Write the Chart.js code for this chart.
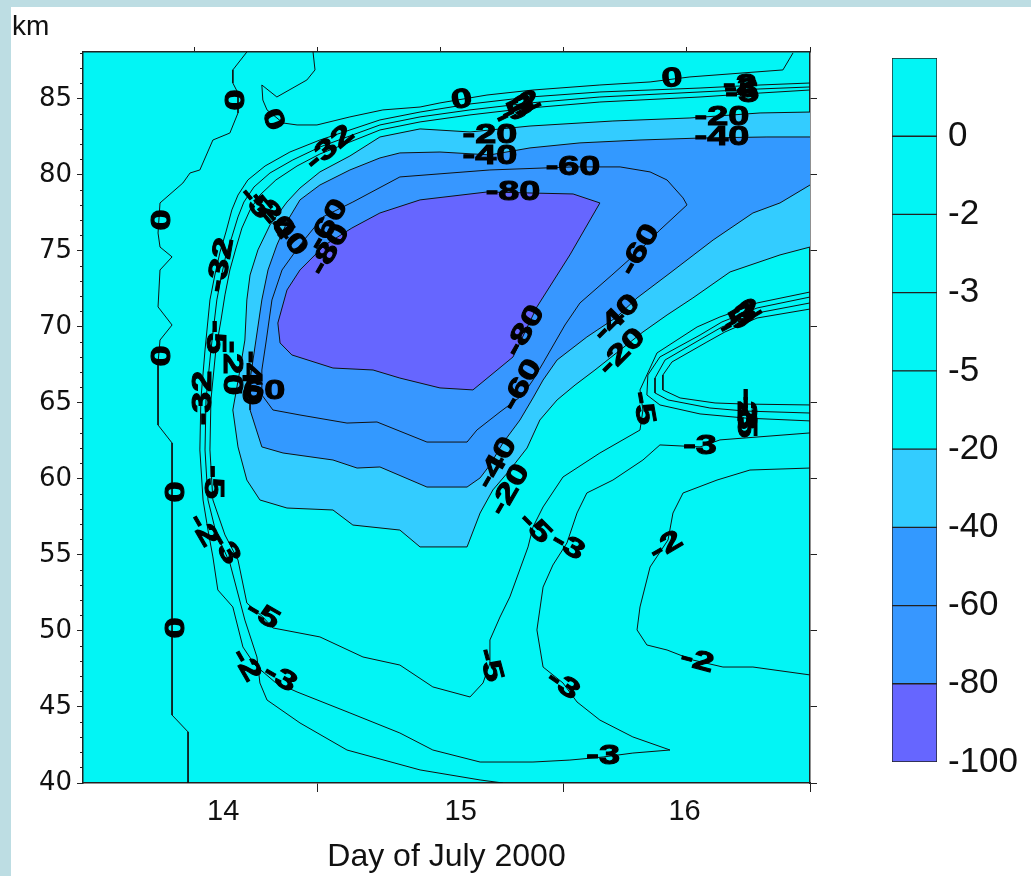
<!DOCTYPE html>
<html>
<head>
<meta charset="utf-8">
<script src="https://cdn.jsdelivr.net/npm/chart.js@4"></script>
<style>
  html, body { margin: 0; padding: 0; }
  body { width: 1031px; height: 876px; background: #bddde3; position: relative; overflow: hidden; }
  #sheet { position: absolute; left: 11px; top: 7px; right: 0; bottom: 0; background: #fff; }
  canvas { position: absolute; top: 0; }
  #map { left: 0; }
  #bar { left: 880px; }
</style>
</head>
<body>
<div id="sheet"></div>
<canvas id="map" width="1031" height="876"></canvas>
<canvas id="bar" width="151" height="876"></canvas>
<script>
// contour lines, each point is [day of July, km]
const c20 = [[17.0,84.14],[16.797,84.08],[16.512,83.75],[16.199,83.55],[15.862,83.22],[15.618,82.83],[15.415,83.03],[15.252,82.5],[15.13,81.25],[15.008,80.2],[14.927,79.14],[14.874,78.22],[14.805,76.71],[14.756,75.07],[14.724,73.42],[14.711,71.78],[14.703,69.14],[14.683,67.17],[14.654,64.54],[14.675,62.11],[14.711,59.93],[14.764,58.62],[14.874,58.09],[15.061,57.96],[15.142,56.97],[15.333,56.64],[15.415,55.53],[15.606,55.53],[15.659,57.76],[15.711,59.28],[15.78,60.59],[15.85,62.04],[15.902,63.88],[15.972,65.2],[16.045,66.18],[16.126,67.17],[16.321,69.67],[16.419,70.79],[16.524,71.91],[16.675,73.62],[16.878,74.74],[17.0,75.26]];
const c40 = [[17.0,82.5],[16.825,82.5],[16.553,82.43],[16.309,82.3],[16.065,82.11],[15.862,81.78],[15.699,81.32],[15.496,81.51],[15.333,81.45],[15.252,81.12],[15.13,80.33],[15.008,79.34],[14.927,78.36],[14.878,77.04],[14.833,75.39],[14.797,73.75],[14.772,71.78],[14.748,69.14],[14.724,66.51],[14.724,64.54],[14.772,62.11],[14.858,61.71],[15.061,61.25],[15.159,60.72],[15.252,60.79],[15.443,59.47],[15.606,59.47],[15.659,60.07],[15.699,60.92],[15.752,62.37],[15.821,63.88],[15.874,65.33],[15.915,66.51],[15.972,67.83],[16.093,69.34],[16.215,70.66],[16.297,71.91],[16.431,73.55],[16.606,75.72],[16.768,77.5],[16.878,78.16],[17.0,79.34]];
const c60 = [[15.333,79.87],[15.699,80.33],[16.037,80.53],[16.228,80.53],[16.35,80.2],[16.419,79.67],[16.484,78.49],[16.5,78.03],[16.39,76.38],[16.309,75.07],[16.195,73.42],[16.065,71.58],[16.004,70.13],[15.915,67.63],[15.874,66.51],[15.833,65.53],[15.74,64.41],[15.646,63.22],[15.606,62.43],[15.443,62.43],[15.24,63.75],[15.118,63.68],[14.927,64.21],[14.817,64.54],[14.772,65.53],[14.772,67.17],[14.789,69.01],[14.813,71.78],[14.854,73.75],[14.927,75.39],[15.02,77.24],[15.142,78.22],[15.333,79.87]];
const c80 = [[15.138,76.51],[15.252,77.5],[15.415,78.36],[15.687,78.88],[16.037,78.75],[16.146,78.16],[16.024,74.74],[15.89,71.32],[15.793,68.03],[15.63,65.86],[15.496,65.99],[15.333,66.64],[15.224,67.17],[15.061,67.3],[14.894,68.16],[14.846,68.95],[14.837,70.26],[14.874,72.43],[14.927,73.75],[15.028,75.39],[15.138,76.51]];
const zeroWest = [[14.711,88.09],[14.654,86.91],[14.654,86.05],[14.675,85.39],[14.675,84.08],[14.642,82.76],[14.573,82.3],[14.52,80.33],[14.48,80.13],[14.451,79.47],[14.358,78.16],[14.35,76.18],[14.358,75.26],[14.407,74.61],[14.358,73.75],[14.35,71.32],[14.407,70.13],[14.358,69.14],[14.35,67.63],[14.35,63.55],[14.407,62.37],[14.407,44.47],[14.472,43.36],[14.472,40.0]];
const zeroNorth = [[14.98,88.09],[14.988,86.91],[14.955,86.25],[14.833,85.13],[14.772,85.92],[14.776,84.93],[14.793,84.28],[14.858,83.42],[14.915,83.29],[14.996,83.29],[15.13,83.82],[15.264,84.28],[15.415,84.47],[15.496,84.74],[15.687,85.26],[15.874,85.59],[16.146,85.92],[16.35,86.12],[16.512,86.45],[16.89,86.91],[16.931,88.03]];
const lineA = [[17.0,86.05],[16.797,85.92],[16.553,85.72],[16.146,85.46],[15.862,85.13],[15.618,84.67],[15.415,84.14],[15.252,83.62],[15.13,82.96],[15.008,82.3],[14.886,81.51],[14.785,80.59],[14.715,79.67],[14.675,78.68],[14.65,77.7],[14.626,76.25],[14.602,74.93],[14.581,73.42],[14.561,71.78],[14.541,68.49],[14.524,65.2],[14.52,61.91],[14.533,58.62],[14.553,56.64],[14.573,54.87],[14.593,52.7],[14.654,51.58],[14.695,48.95],[14.744,47.76],[14.825,46.64],[14.915,45.99],[15.13,44.61],[15.333,43.29],[15.467,42.17],[15.659,41.38],[15.874,41.38],[16.024,41.51],[16.159,41.71],[16.28,41.97],[16.431,42.17],[16.28,43.03],[16.146,44.14],[16.053,45.33],[15.996,46.58],[15.915,47.63],[15.89,50.07],[15.915,52.89],[15.955,54.34],[16.012,55.79],[16.053,57.76],[16.093,59.08],[16.199,59.93],[16.321,61.25],[16.39,62.24],[16.553,62.11],[16.634,62.57],[17.0,63.03]];
const lineB = [[17.0,85.79],[16.797,85.66],[16.553,85.46],[16.146,85.13],[15.862,84.74],[15.618,84.28],[15.415,83.82],[15.252,83.29],[15.13,82.57],[15.008,81.84],[14.898,80.99],[14.805,80.13],[14.74,79.21],[14.699,78.22],[14.675,77.24],[14.65,75.92],[14.626,74.74],[14.606,73.22],[14.589,71.78],[14.565,68.49],[14.545,65.2],[14.541,61.91],[14.553,58.62],[14.585,56.51],[14.642,54.47],[14.703,50.72],[14.752,48.29],[14.764,46.58],[14.793,45.46],[14.927,43.95],[15.118,42.17],[15.415,40.86],[15.659,40.2],[15.752,40.0]];
const lineC = [[17.0,85.59],[16.797,85.39],[16.553,85.13],[16.146,84.8],[15.862,84.41],[15.618,83.95],[15.415,83.49],[15.252,82.96],[15.13,82.17],[15.008,81.38],[14.915,80.59],[14.829,79.67],[14.764,78.68],[14.724,77.7],[14.691,76.51],[14.667,75.2],[14.642,73.75],[14.622,72.11],[14.606,70.46],[14.585,68.49],[14.565,65.2],[14.561,61.91],[14.573,58.62],[14.622,56.32],[14.675,54.67],[14.711,51.84],[14.776,50.92],[14.817,50.2],[15.008,49.61],[15.183,48.29],[15.333,47.76],[15.467,46.32],[15.618,45.66],[15.671,46.58],[15.699,47.89],[15.699,49.41],[15.74,50.92],[15.78,52.24],[15.854,55.53],[15.874,56.84],[15.915,58.16],[15.996,60.13],[16.146,61.71],[16.309,63.22],[16.321,64.54],[16.309,65.86],[16.378,68.29],[16.541,70.0],[16.634,70.66],[16.715,71.12],[16.785,71.58],[17.0,72.3]];
const hookA = [[17.0,71.97],[16.785,71.25],[16.642,70.33],[16.553,69.47],[16.39,68.03],[16.341,66.84],[16.337,65.53],[16.39,64.87],[16.553,64.28],[16.736,64.01],[17.0,63.82]];
const hookB = [[17.0,71.58],[16.785,70.92],[16.642,70.0],[16.565,69.28],[16.411,67.83],[16.37,66.64],[16.37,65.66],[16.423,65.2],[16.593,64.67],[16.736,64.47],[17.0,64.34]];
const hookC = [[17.0,71.18],[16.785,70.59],[16.654,69.67],[16.581,69.01],[16.439,67.7],[16.402,66.84],[16.402,65.86],[16.472,65.33],[16.614,65.0],[16.736,64.93],[17.0,64.87]];
const eastTwo = [[17.0,60.72],[16.756,60.59],[16.622,59.93],[16.484,59.08],[16.443,57.76],[16.423,55.99],[16.35,54.21],[16.309,51.58],[16.297,50.07],[16.337,49.08],[16.419,48.75],[16.524,48.09],[16.646,47.63],[16.768,47.63],[17.0,47.11]];

// [text, day, km, angle in degrees]
const contourLabels = [
  ['0',14.654,84.93,90],['0',14.817,83.62,70],['0',14.35,77.04,90],['0',14.35,68.09,90],['0',14.407,59.14,90],['0',14.407,50.2,90],['0',15.585,84.93,-10],['0',16.439,86.32,-5],
  ['-32',15.049,81.78,-40],['-32',14.606,74.08,-80],
  ['-5',14.744,78.16,50],['-20',14.813,77.37,50],['-40',14.866,76.25,50],['-60',15.041,76.71,-60],['-80',15.049,75.07,-60],
  ['-5',14.581,69.34,90],['-20',14.65,67.3,90],['-40',14.724,66.64,90],['-60',14.756,65.72,0],['-32',14.533,65.33,-90],
  ['-5',14.573,59.8,90],['-2',14.533,56.64,60],['-3',14.622,55.46,60],['-5',14.776,51.05,30],['-2',14.707,47.76,60],['-3',14.846,46.91,30],
  ['-20',15.699,82.57,0],['-40',15.699,81.18,0],['-5',15.789,84.08,-25],['-3',15.813,84.34,-25],['-2',15.837,84.61,-25],
  ['-60',16.037,80.46,0],['-80',15.793,78.82,0],
  ['-2',16.715,85.86,0],['-3',16.72,85.59,0],['-5',16.724,85.26,0],['-20',16.642,83.75,0],['-40',16.642,82.43,0],
  ['-60',16.309,75.07,-60],['-80',15.841,69.74,-60],['-60',15.829,66.18,-60],['-40',16.215,70.59,-45],['-20',16.236,68.36,-45],
  ['-40',15.728,61.05,-60],['-20',15.78,59.28,-60],['-5',15.882,56.78,45],['-3',16.016,55.59,30],['-2',16.415,55.59,-30],
  ['-5',16.321,64.67,80],['-5',16.695,70.33,-30],['-3',16.715,70.59,-30],['-2',16.736,70.86,-30],
  ['-5',16.736,63.82,90],['-3',16.736,64.34,90],['-2',16.736,64.87,90],['-3',16.553,62.11,0],
  ['-5',15.699,47.76,75],['-3',15.996,46.45,35],['-2',16.541,48.03,15],['-3',16.159,41.71,0]
];

// axes
const DAY_MIN = 14.045, DAY_MAX = 17.0;
const KM_MIN = 40, KM_MAX = 88.09;
const kmTicks = [40, 45, 50, 55, 60, 65, 70, 75, 80, 85];
const kmMinor = [];
for (let k = 40; k <= 88; k++) kmMinor.push(k);
const dayMarks = [15, 16, 17];
const dayHalf = [14.5, 15, 15.5, 16, 16.5, 17];
const dayLabels = ['14', '15', '16'];
const dayLabelAt = [14.615, 15.58, 16.49];

// colour scale, bottom to top
const levels = ['-100', '-80', '-60', '-40', '-20', '-5', '-3', '-2', '0'];
const CYAN = '#02f5f5', LIGHT = '#33ccff', BLUE = '#3399ff', BLUE2 = '#3797ff', PURPLE = '#6666ff';
const bandColors = [PURPLE, BLUE2, BLUE, LIGHT, CYAN, CYAN, CYAN, CYAN, CYAN];

const FONT = "Arial, 'Liberation Sans', sans-serif";
const INK = '#222';

const pts = a => a.map(([x, y]) => ({ x, y }));
function contour(arr, fillColor, order) {
  return {
    data: pts(arr), xAxisID: 'x', yAxisID: 'y',
    showLine: true, pointRadius: 0, tension: 0,
    borderColor: '#111', borderWidth: 1,
    fill: fillColor ? 'shape' : false,
    backgroundColor: fillColor || 'transparent',
    order,
  };
}

const areaFill = {
  id: 'areaFill',
  beforeDraw(chart) {
    const { ctx, chartArea: a } = chart;
    ctx.save();
    ctx.fillStyle = CYAN;
    ctx.fillRect(a.left, a.top, a.width, a.height);
    ctx.restore();
  }
};

// line labels, rotated along the contours (Surfer style, wide and heavy)
const labelPlugin = {
  id: 'contourLabels',
  afterDatasetsDraw(chart) {
    const { ctx, chartArea: a, scales: { x, y } } = chart;
    ctx.save();
    ctx.beginPath();
    ctx.rect(a.left, a.top, a.width, a.height);
    ctx.clip();
    ctx.font = `bold 27px ${FONT}`;
    ctx.fillStyle = '#000';
    ctx.strokeStyle = '#000';
    ctx.lineWidth = 1;
    ctx.textAlign = 'center';
    ctx.textBaseline = 'middle';
    for (const [t, d, k, ang] of contourLabels) {
      ctx.save();
      ctx.translate(x.getPixelForValue(d), y.getPixelForValue(k));
      ctx.rotate(ang * Math.PI / 180);
      ctx.scale(1.4, 1);
      ctx.fillText(t, 0, 0);
      ctx.strokeText(t, 0, 0);
      ctx.restore();
    }
    ctx.restore();
  }
};

const edge = { color: INK, width: 1.5 };

new Chart(document.getElementById('map'), {
  type: 'scatter',
  data: {
    datasets: [
      contour(c20, LIGHT, 6),
      contour(c40, BLUE, 5),
      contour(c60, BLUE2, 4),
      contour(c80, PURPLE, 3),
      contour(zeroWest, null, 1),
      contour(zeroNorth, null, 1),
      contour(lineA, null, 1),
      contour(lineB, null, 1),
      contour(lineC, null, 1),
      contour(hookA, null, 1),
      contour(hookB, null, 1),
      contour(hookC, null, 1),
      contour(eastTwo, null, 1),
    ],
  },
  options: {
    responsive: false, animation: false, devicePixelRatio: 1, events: [],
    layout: { padding: { left: 12, right: 211, top: 0, bottom: 0 } },
    plugins: {
      legend: { display: false },
      tooltip: { enabled: false },
      title: { display: true, text: 'km', align: 'start', color: '#111', font: { family: FONT, size: 28, weight: 'normal' }, padding: { top: 10, bottom: 0 } },
    },
    scales: {
      x: {
        type: 'linear', position: 'bottom', min: DAY_MIN, max: DAY_MAX,
        afterBuildTicks: s => { s.ticks = [...dayMarks, ...dayLabelAt].sort((a, b) => a - b).map(v => ({ value: v })); },
        afterFit: s => { s.height = 93; },
        grid: { drawOnChartArea: false, tickLength: 9, tickColor: c => dayMarks.includes(c.tick.value) ? INK : 'rgba(0,0,0,0)' },
        border: edge,
        ticks: {
          autoSkip: false, maxRotation: 0, padding: 3, color: '#111', font: { family: FONT, size: 29 },
          callback: v => { const i = dayLabelAt.indexOf(v); return i < 0 ? '' : dayLabels[i]; },
        },
        title: { display: true, text: 'Day of July 2000', color: '#111', font: { family: FONT, size: 32 }, padding: { top: 0, bottom: 0 } },
      },
      xTop: {
        type: 'linear', position: 'top', min: DAY_MIN, max: DAY_MAX,
        afterBuildTicks: s => { s.ticks = dayHalf.map(v => ({ value: v })); },
        afterFit: s => { s.height = 8.4; },
        grid: { drawOnChartArea: false, tickLength: 5, color: INK },
        border: edge,
        ticks: { display: false },
      },
      y: {
        type: 'linear', position: 'left', weight: 1, min: KM_MIN, max: KM_MAX,
        afterBuildTicks: s => { s.ticks = kmTicks.map(v => ({ value: v })); },
        afterFit: s => { s.width = 68; },
        grid: { drawOnChartArea: false, tickLength: 3, color: INK },
        border: { display: false },
        ticks: { padding: 5, color: '#111', font: { family: "'DejaVu Sans'", size: 26 } },
      },
      yMinor: {
        type: 'linear', position: 'left', weight: 0, min: KM_MIN, max: KM_MAX,
        afterBuildTicks: s => { s.ticks = kmMinor.map(v => ({ value: v })); },
        afterFit: s => { s.width = 3; },
        grid: { drawOnChartArea: false, tickLength: 3, color: INK },
        border: edge,
        ticks: { display: false },
      },
      yR: {
        type: 'linear', position: 'right', min: KM_MIN, max: KM_MAX,
        afterBuildTicks: s => { s.ticks = kmTicks.map(v => ({ value: v })); },
        afterFit: s => { s.width = 10; },
        grid: { drawOnChartArea: false, tickLength: 7, color: INK },
        border: edge,
        ticks: { display: false },
      },
    },
  },
  plugins: [areaFill, labelPlugin],
});

// colour bar
new Chart(document.getElementById('bar'), {
  type: 'bar',
  data: {
    labels: [''],
    datasets: bandColors.map(c => ({
      data: [1], backgroundColor: c, borderColor: INK, borderWidth: 1, borderSkipped: false,
      barPercentage: 1, categoryPercentage: 1,
    })),
  },
  options: {
    responsive: false, animation: false, devicePixelRatio: 1, events: [],
    layout: { padding: { left: 12, right: 0, top: 58, bottom: 114 } },
    plugins: { legend: { display: false }, tooltip: { enabled: false } },
    scales: {
      x: { display: false, stacked: true },
      y: {
        stacked: true, position: 'right', min: 0, max: bandColors.length,
        afterBuildTicks: s => { s.ticks = levels.map((_, i) => ({ value: i })); },
        afterFit: s => { s.width = 94; },
        grid: { display: false, drawTicks: false },
        border: { display: false },
        ticks: { padding: 11, color: '#111', font: { family: FONT, size: 35 }, callback: v => levels[v] },
      },
    },
  },
});
</script>
</body>
</html>
